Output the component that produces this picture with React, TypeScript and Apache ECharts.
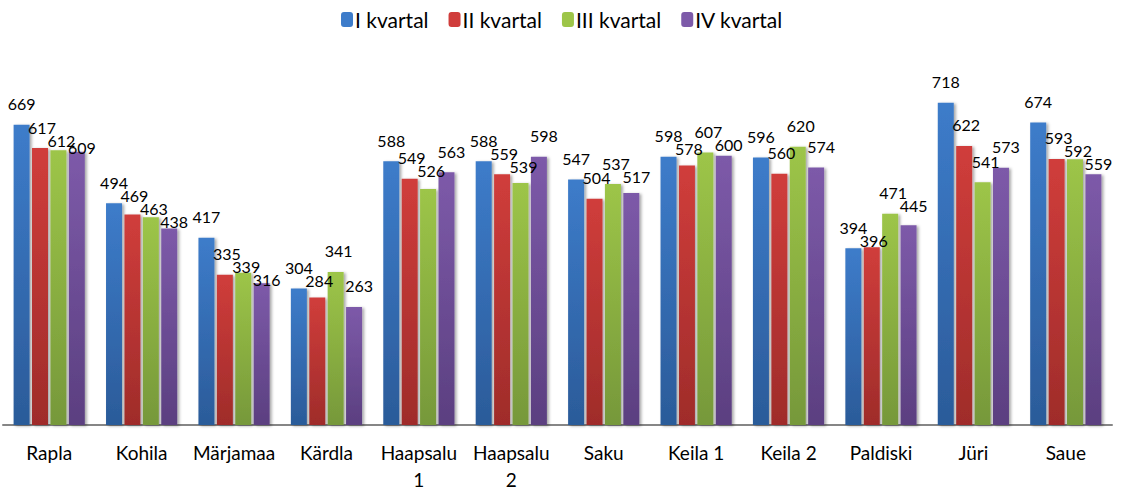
import React, { useEffect, useRef } from "react";
import * as echarts from "echarts";

const categories = ["Rapla", "Kohila", "Märjamaa", "Kärdla", "Haapsalu\n1", "Haapsalu\n2", "Saku", "Keila 1", "Keila 2", "Paldiski", "Jüri", "Saue"];
const seriesNames = ["I kvartal", "II kvartal", "III kvartal", "IV kvartal"];
const q1 = [669, 494, 417, 304, 588, 588, 547, 598, 596, 394, 718, 674];
const q2 = [617, 469, 335, 284, 549, 559, 504, 578, 560, 396, 622, 593];
const q3 = [612, 463, 339, 341, 526, 539, 537, 607, 620, 471, 541, 592];
const q4 = [609, 438, 316, 263, 563, 598, 517, 600, 574, 445, 573, 559];
const seriesData = [q1, q2, q3, q4];

const colorsTop = ["#3d7cca", "#d03d3b", "#9dc548", "#7d5aa9"];
const colorsBottom = ["#2b5b99", "#9f2c2a", "#76983a", "#5b3f80"];
const labelDx = [0, 2, 3, 5];

export default function App() {
  const ref = useRef<HTMLDivElement>(null);
  useEffect(() => {
    const chart = echarts.init(ref.current!, null, { renderer: "svg" });
    const font = "Lato, 'Open Sans', sans-serif";
    const rise = 21;
    const sep = 13;
    const minGap = 4;

    const makeLayout = (s: number) => (params: any) => {
      const { dataIndex, rect } = params;
      const val = seriesData[s][dataIndex];
      const base = rect.y + rect.height;
      const ppu = val ? rect.height / val : 0;
      let prev = -Infinity;
      let y = 0;
      for (let k = 0; k <= s; k++) {
        const top = base - seriesData[k][dataIndex] * ppu;
        y = top - rise;
        if (Math.abs(y - prev) < sep) y = Math.min(prev + sep, top - minGap);
        prev = y;
      }
      return {
        x: rect.x + rect.width / 2 + labelDx[s],
        y,
        align: "center",
        verticalAlign: "middle",
      };
    };

    chart.setOption({
      animation: false,
      legend: {
        top: 4,
        left: "center",
        itemWidth: 12,
        itemHeight: 15,
        itemGap: 20,
        textStyle: { fontFamily: font, fontSize: 21, color: "#000", padding: [0, 0, 0, -3] },
        data: seriesNames.map((n, i) => ({ name: n, itemStyle: { color: colorsTop[i] } })),
      },
      grid: { left: 3, right: 12, top: 66, bottom: 65 },
      xAxis: {
        type: "category",
        data: categories,
        axisLine: { lineStyle: { color: "#868686", width: 2 } },
        axisTick: { show: false },
        axisLabel: { fontFamily: font, fontSize: 19, color: "#000", margin: 14, lineHeight: 27, interval: 0 },
      },
      yAxis: {
        type: "value",
        min: 0,
        max: 800,
        show: false,
        splitLine: { show: false },
      },
      series: seriesData.map((d, i) => ({
        name: seriesNames[i],
        type: "bar",
        data: d,
        barWidth: 16,
        barGap: "15%",
        itemStyle: {
          color: new echarts.graphic.LinearGradient(0, 0, 0, 1, [
            { offset: 0, color: colorsTop[i] },
            { offset: 1, color: colorsBottom[i] },
          ]),
          shadowColor: "rgba(0,0,0,0.35)",
          shadowBlur: 3,
          shadowOffsetX: 2,
          shadowOffsetY: 1,
        },
        labelLayout: makeLayout(i),
        label: {
          show: true,
          position: "top",
          fontFamily: font,
          fontSize: 16,
          color: "#000",
        },
      })),
    });
    return () => chart.dispose();
  }, []);
  return <div ref={ref} style={{ width: 1124, height: 493, position: "absolute", left: 0, top: 0 }} />;
}
